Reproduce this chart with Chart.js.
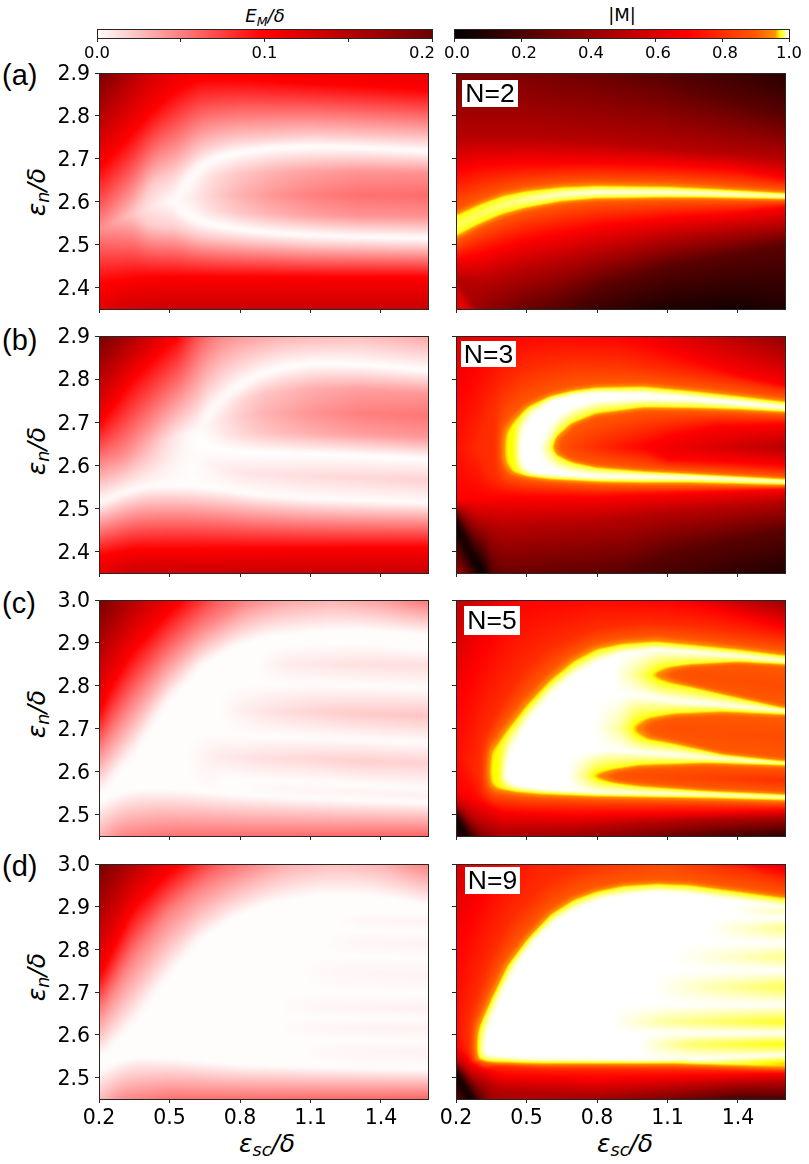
<!DOCTYPE html>
<html><head><meta charset="utf-8">
<script src="https://cdn.jsdelivr.net/npm/chart.js@4"></script>
<style>
html,body{margin:0;padding:0;background:#fff;}
#page{position:relative;width:809px;height:1164px;overflow:hidden;background:#fff;}
canvas{position:absolute;}
.t{position:absolute;white-space:nowrap;color:#000;font-family:"DejaVu Sans",sans-serif;transform:translate(-50%,-50%);line-height:1;}
.t sub{font-size:.7em;line-height:0;vertical-align:-.28em;}
.yl{font-size:25px;font-style:italic;transform:translate(-50%,-50%) rotate(-90deg);}
.xl{font-size:25px;font-style:italic;}
.panel{position:absolute;white-space:nowrap;font-family:"Liberation Sans",Arial,sans-serif;font-size:29px;color:#000;line-height:1;}
.n{position:absolute;background:#fff;font-family:"Liberation Sans",Arial,sans-serif;font-size:26.5px;color:#000;text-align:center;white-space:nowrap;}
</style></head><body><div id="page">
<div class="t" style="left:265px;top:16px;font-size:18px;font-style:italic">E<sub>M</sub>/δ</div>
<div class="t" style="left:622px;top:15px;font-size:18px">|M|</div>
<div class="panel" style="left:2px;top:61px">(a)</div>
<div class="panel" style="left:2px;top:326px">(b)</div>
<div class="panel" style="left:2px;top:589px">(c)</div>
<div class="panel" style="left:2px;top:852px">(d)</div>
<div class="t yl" style="left:36px;top:192px">ε<sub>n</sub>/δ</div>
<div class="t yl" style="left:36px;top:451px">ε<sub>n</sub>/δ</div>
<div class="t yl" style="left:36px;top:714px">ε<sub>n</sub>/δ</div>
<div class="t yl" style="left:36px;top:977px">ε<sub>n</sub>/δ</div>
<div class="t xl" style="left:267px;top:1143px">ε<sub>sc</sub>/δ</div>
<div class="t xl" style="left:625px;top:1143px">ε<sub>sc</sub>/δ</div>
<script>
// Axis ticks
const xTicks=[0.2,0.5,0.8,1.1,1.4];
const yTicksAB=[2.4,2.5,2.6,2.7,2.8,2.9];
const yTicksCD=[2.5,2.6,2.7,2.8,2.9,3.0];
const barTicksE=[0,0.05,0.1,0.15,0.2];
const barLabelsE=[0,0.1,0.2];
const barTicksM=[0,0.2,0.4,0.6,0.8,1];
const panelNames=['N=2','N=3','N=5','N=9'];

// Each field is a list of traces: [level, [x,y,(value)], ...]
// level = the value along the whole trace, or null when every node carries its own value.
const fieldAE=[
 [null,[.2,2.35,.115],[.3,2.35,.13],[.5,2.35,.136],[1.6,2.35,.136]],
 [.1,[.2,2.41],[.4,2.425],[1.6,2.425]],
 [.02,[.36,2.575],[.38,2.555],[.42,2.545],[.47,2.54],[.52,2.54],[.57,2.53],[.63,2.52],[.8,2.51],[1.1,2.5],[1.6,2.495]],
 [null,[.2,2.535,.045],[.3,2.56,.03],[.4,2.583,.013],[.47,2.597,.005],[.52,2.6,.001]],
 [0,[.52,2.6],[.54,2.582],[.57,2.568],[.63,2.553],[.7,2.544],[.8,2.535],[.95,2.527],[1.1,2.522],[1.3,2.518],[1.6,2.515]],
 [null,[.63,2.58,.009],[.7,2.58,.015],[.8,2.575,.023],[.95,2.571,.031],[1.1,2.568,.037],[1.3,2.566,.042],[1.6,2.565,.043]],
 [null,[.52,2.6,.001],[.57,2.605,.005],[.63,2.61,.012],[.7,2.615,.02],[.8,2.615,.031],[.95,2.615,.042],[1.1,2.615,.05],[1.3,2.615,.056],[1.6,2.615,.058]],
 [null,[.63,2.647,.009],[.7,2.66,.015],[.8,2.665,.023],[.95,2.67,.031],[1.1,2.67,.037],[1.3,2.67,.042],[1.6,2.667,.043]],
 [0,[.52,2.6],[.54,2.625],[.57,2.65],[.63,2.683],[.7,2.702],[.8,2.716],[.95,2.726],[1.1,2.728],[1.3,2.726],[1.6,2.718]],
 [.02,[.36,2.575],[.38,2.6],[.42,2.635],[.47,2.655],[.52,2.665],[.57,2.69],[.63,2.72],[.7,2.735],[.8,2.745],[1.1,2.755],[1.6,2.745]],
 [.1,[.2,2.675],[.27,2.715],[.345,2.76],[.42,2.805],[.487,2.84],[.55,2.865],[.63,2.885],[.8,2.885],[1.1,2.875],[1.3,2.87],[1.6,2.86]],
 [null,[.2,2.9,.195],[.3,2.9,.165],[.4,2.9,.135],[.5,2.9,.118],[.63,2.9,.105],[.8,2.9,.106],[1.1,2.9,.11],[1.6,2.9,.116]]
];
const fieldAM=[
 [null,[.2,2.35,.62],[.268,2.35,.6],[.272,2.35,.45],[.3,2.35,.42],[.5,2.35,.29],[.8,2.35,.16],[1.1,2.35,.08],[1.4,2.35,.06],[1.6,2.35,.09]],
 [null,[.2,2.41,.62],[.268,2.351,.6]],
 [null,[.2,2.411,.47],[.272,2.352,.45]],
 [.25,[.6,2.35],[.8,2.4],[1.1,2.45],[1.4,2.48],[1.6,2.5]],
 [.5,[.2,2.42],[.3,2.41],[.5,2.44],[.8,2.48],[1.1,2.515],[1.4,2.535],[1.6,2.545]],
 [.7,[.2,2.465],[.3,2.477],[.5,2.51],[.8,2.543],[1.1,2.562],[1.4,2.574],[1.6,2.588]],
 [.9,[.2,2.508],[.3,2.537],[.4,2.561],[.5,2.577],[.65,2.593],[.8,2.6],[1.1,2.603],[1.3,2.603],[1.6,2.601]],
 [.975,[.2,2.518],[.3,2.547],[.4,2.571],[.5,2.586],[.65,2.601],[.8,2.608],[1.1,2.61],[1.3,2.609],[1.6,2.606]],
 [null,[.2,2.543,.984],[.3,2.57,.985],[.4,2.592,.988],[.5,2.605,.992],[.65,2.617,.997],[.8,2.622,1],[1.1,2.622,1],[1.3,2.619,1],[1.6,2.613,1]],
 [.975,[.2,2.568],[.3,2.593],[.4,2.613],[.5,2.624],[.65,2.633],[.8,2.636],[1.1,2.634],[1.3,2.629],[1.6,2.62]],
 [.9,[.2,2.58],[.3,2.605],[.4,2.625],[.5,2.636],[.65,2.645],[.8,2.648],[1.1,2.646],[1.3,2.64],[1.6,2.628]],
 [.7,[.2,2.67],[.3,2.685],[.5,2.69],[.8,2.69],[1.1,2.685],[1.4,2.675],[1.6,2.655]],
 [.5,[.2,2.75],[.5,2.75],[.8,2.74],[1.1,2.725],[1.4,2.71],[1.6,2.7]],
 [.25,[1.1,2.88],[1.4,2.83],[1.6,2.8]],
 [null,[.2,2.9,.35],[.5,2.9,.34],[.8,2.9,.29],[1.1,2.9,.23],[1.4,2.9,.16],[1.6,2.9,.11]]
];
const fieldBE=[
 [null,[.2,2.35,.115],[.35,2.35,.135],[1.6,2.35,.138]],
 [.1,[.2,2.39],[.35,2.405],[1.6,2.41]],
 [.001,[.2,2.512],[.3,2.535],[.4,2.55],[.5,2.552],[.6,2.55],[.7,2.544],[.9,2.53],[1.1,2.522],[1.3,2.518],[1.6,2.513]],
 [null,[.625,2.61,.003],[.8,2.583,.01],[1.1,2.575,.014],[1.6,2.565,.018]],
 [null,[.2,2.6,.045],[.3,2.62,.045],[.4,2.64,.03],[.5,2.66,.012],[.58,2.675,.003],[.625,2.677,.001]],
 [0,[.625,2.677],[.642,2.65],[.7,2.638],[.84,2.63],[1.05,2.628],[1.34,2.623],[1.6,2.615]],
 [null,[.7,2.67,.006],[.8,2.672,.015],[.9,2.674,.023],[1.1,2.674,.032],[1.3,2.672,.038],[1.6,2.665,.041]],
 [null,[.625,2.677,.001],[.7,2.7,.008],[.8,2.715,.02],[.9,2.72,.03],[1.1,2.72,.042],[1.3,2.72,.05],[1.6,2.715,.054]],
 [null,[.7,2.72,.006],[.8,2.75,.015],[.9,2.767,.023],[1.1,2.778,.032],[1.3,2.776,.038],[1.6,2.767,.041]],
 [0,[.625,2.677],[.642,2.705],[.685,2.73],[.77,2.775],[.885,2.81],[1.0,2.829],[1.125,2.836],[1.34,2.832],[1.6,2.82]],
 [.1,[.2,2.69],[.345,2.8],[.487,2.875],[.54,2.9]],
 [null,[.2,2.9,.195],[.345,2.9,.155],[.487,2.9,.112],[.54,2.9,.1],[.62,2.9,.068],[.7,2.9,.05],[.8,2.9,.04],[1.0,2.9,.03],[1.3,2.9,.026],[1.6,2.9,.035]]
];
const fieldBM=[
 [null,[.2,2.35,.46],[.25,2.35,.3],[.31,2.35,.02],[.318,2.35,0],[.33,2.35,.1],[.36,2.35,.26],[.417,2.35,.3],[.8,2.35,.26],[1.1,2.35,.2],[1.4,2.35,.13],[1.6,2.35,.09]],
 [0,[.2,2.472],[.24,2.425],[.275,2.38],[.318,2.35]],
 [.25,[.9,2.35],[1.1,2.395],[1.4,2.43],[1.6,2.45]],
 [.5,[.2,2.505],[.3,2.47],[.4,2.455],[.8,2.47],[1.1,2.49],[1.4,2.505],[1.6,2.515]],
 [.7,[.2,2.52],[.4,2.526],[.8,2.526],[1.2,2.537],[1.6,2.545]],
 [.8,[.3,2.64],[.33,2.59],[.4,2.555],[.5,2.547],[.8,2.54],[1.2,2.543],[1.6,2.548]],
 [.9,[.382,2.635],[.397,2.6],[.428,2.576],[.5,2.566],[.6,2.56],[.8,2.554],[1.0,2.552],[1.2,2.552],[1.6,2.548]],
 [.975,[.396,2.635],[.41,2.606],[.438,2.586],[.5,2.575],[.6,2.568],[.7,2.565],[.8,2.562],[1.0,2.56],[1.2,2.56],[1.6,2.555]],
 [1,[.46,2.635],[.48,2.6],[.52,2.583],[.6,2.578],[.8,2.572],[1,2.571],[1.2,2.57],[1.6,2.563]],
 [1,[.56,2.635],[.58,2.605],[.63,2.59],[.7,2.582],[.8,2.577],[1,2.575],[1.2,2.573],[1.6,2.564]],
 [.975,[.623,2.642],[.63,2.627],[.65,2.62],[.7,2.607],[.8,2.595],[1,2.586],[1.2,2.58],[1.4,2.574],[1.6,2.568]],
 [.9,[.635,2.642],[.642,2.63],[.66,2.625],[.7,2.613],[.8,2.602],[1,2.593],[1.2,2.587],[1.4,2.581],[1.6,2.574]],
 [.7,[1.0,2.642],[1.1,2.615],[1.3,2.61],[1.6,2.6]],
 [null,[.56,2.64,1],[.6,2.64,.985],[.623,2.642,.975],[.635,2.642,.9],[.7,2.642,.85],[.8,2.642,.8],[1.0,2.642,.7],[1.3,2.642,.6],[1.6,2.642,.5]],
 [.7,[1.0,2.642],[1.1,2.665],[1.3,2.69],[1.6,2.695]],
 [.9,[.635,2.642],[.642,2.66],[.66,2.668],[.7,2.69],[.8,2.712],[1,2.726],[1.2,2.726],[1.4,2.722],[1.6,2.717]],
 [.975,[.623,2.642],[.63,2.662],[.65,2.673],[.7,2.697],[.8,2.72],[1.0,2.734],[1.2,2.733],[1.4,2.73],[1.6,2.724]],
 [1,[.56,2.635],[.58,2.67],[.63,2.71],[.7,2.735],[.8,2.75],[1,2.755],[1.2,2.752],[1.4,2.742],[1.6,2.733]],
 [1,[.46,2.635],[.48,2.68],[.52,2.715],[.6,2.748],[.7,2.762],[.8,2.768],[1,2.766],[1.2,2.757],[1.4,2.747],[1.6,2.735]],
 [.975,[.396,2.635],[.41,2.676],[.438,2.697],[.5,2.734],[.6,2.76],[.7,2.773],[.8,2.78],[1.0,2.782],[1.2,2.772],[1.4,2.76],[1.6,2.747]],
 [.9,[.382,2.635],[.397,2.68],[.428,2.708],[.5,2.745],[.6,2.77],[.7,2.783],[.8,2.79],[1.0,2.792],[1.2,2.782],[1.4,2.77],[1.6,2.757]],
 [.8,[.3,2.64],[.33,2.7],[.4,2.78],[.5,2.825],[.7,2.845],[.9,2.84],[1.1,2.82],[1.4,2.795],[1.6,2.775]],
 [null,[.2,2.64,.73],[.3,2.64,.8]],
 [.7,[.2,2.75],[.3,2.85],[.38,2.9]],
 [.7,[.9,2.9],[1.1,2.865],[1.4,2.81],[1.6,2.785]],
 [null,[.2,2.9,.6],[.3,2.9,.67],[.38,2.9,.7],[.6,2.9,.72],[.9,2.9,.7],[1.1,2.9,.62],[1.4,2.9,.5],[1.6,2.9,.4]]
];
const fieldCE=[
 [null,[.2,2.45,.03],[.3,2.45,.048],[.5,2.45,.055],[1.6,2.45,.06]],
 [.001,[.2,2.525],[.27,2.545],[.35,2.558],[.45,2.56],[.6,2.555],[.8,2.545],[1.1,2.537],[1.6,2.527]],
 [null,[.8,2.56,.001],[1.0,2.558,.004],[1.3,2.552,.005],[1.6,2.545,.006]],
 [.001,[.7,2.585],[1.1,2.577],[1.6,2.56]],
 [null,[.58,2.64,.001],[.7,2.635,.008],[.9,2.63,.013],[1.1,2.63,.016],[1.3,2.625,.019],[1.6,2.62,.018]],
 [.001,[.55,2.69],[.8,2.685],[1.1,2.68],[1.6,2.668]],
 [null,[.72,2.745,.001],[.8,2.745,.006],[.9,2.74,.011],[1.1,2.74,.017],[1.3,2.735,.021],[1.6,2.73,.023]],
 [.001,[.65,2.8],[1.1,2.805],[1.6,2.795]],
 [null,[.88,2.85,.001],[1.0,2.85,.008],[1.2,2.85,.011],[1.4,2.85,.013],[1.6,2.848,.013]],
 [.001,[.8,2.885],[1.1,2.897],[1.3,2.898],[1.6,2.884]],
 [.001,[.2,2.545],[.345,2.64],[.487,2.76],[.63,2.845],[.77,2.89],[.91,2.915],[1.1,2.925],[1.3,2.93],[1.6,2.92]],
 [.05,[.2,2.648],[.345,2.765],[.487,2.865],[.63,2.935],[.77,2.98],[.82,3.0]],
 [.1,[.2,2.725],[.25,2.795],[.345,2.88],[.487,2.965],[.557,3.0]],
 [null,[.2,3,.195],[.345,3,.15],[.487,3,.115],[.557,3,.1],[.7,3,.065],[.82,3,.05],[1,3,.035],[1.2,3,.03],[1.4,3,.038],[1.6,3,.055]]
];
const fieldCM=[
 [null,[.2,2.45,.2],[.235,2.45,.03],[.245,2.45,0],[.26,2.45,.12],[.3,2.45,.35],[.4,2.45,.48],[.7,2.45,.44],[1.0,2.45,.35],[1.3,2.45,.22],[1.6,2.45,.12]],
 [0,[.2,2.5],[.245,2.45]],
 [.5,[.2,2.525],[.25,2.5],[.3,2.48],[.4,2.46],[.7,2.465],[1.0,2.48],[1.3,2.49],[1.6,2.495]],
 [.7,[.2,2.555],[.3,2.53],[.4,2.505],[.7,2.5],[1,2.503],[1.3,2.506],[1.6,2.51]],
 [.8,[.29,2.6],[.31,2.555],[.36,2.53],[.5,2.522],[.8,2.52],[1.2,2.52],[1.6,2.518]],
 [.9,[.32,2.6],[.335,2.565],[.36,2.55],[.45,2.543],[.56,2.538],[.8,2.534],[1.27,2.53],[1.6,2.526]],
 [.975,[.335,2.6],[.345,2.575],[.375,2.562],[.46,2.553],[.56,2.548],[.8,2.543],[1.27,2.539],[1.6,2.534]],
 [1,[.4,2.59],[.44,2.57],[.5,2.563],[.6,2.557],[.8,2.551],[1.27,2.546],[1.6,2.54]],
 [.975,[.79,2.59],[.81,2.582],[.857,2.576],[.985,2.566],[1.27,2.555],[1.6,2.547]],
 [.9,[.857,2.589],[.875,2.581],[.985,2.574],[1.27,2.562],[1.6,2.553]],
 [null,[.68,2.59,1],[.74,2.59,.99],[.79,2.59,.975],[.857,2.589,.9],[.98,2.59,.87],[1.3,2.585,.84],[1.6,2.58,.8]],
 [.9,[.857,2.589],[.875,2.597],[.985,2.607],[1.27,2.613],[1.6,2.607]],
 [.975,[.79,2.59],[.81,2.598],[.857,2.604],[.985,2.615],[1.27,2.62],[1.6,2.615]],
 [1,[.68,2.64],[.85,2.65],[1.13,2.64],[1.34,2.63],[1.6,2.62]],
 [.975,[.95,2.7],[.97,2.687],[1.02,2.675],[1.13,2.665],[1.34,2.64],[1.6,2.624]],
 [.9,[1.01,2.7],[1.03,2.688],[1.13,2.675],[1.34,2.647],[1.6,2.632]],
 [null,[.8,2.7,1],[.9,2.7,.99],[.96,2.7,.975],[1.02,2.7,.9],[1.13,2.7,.88],[1.6,2.68,.87]],
 [.9,[1.01,2.7],[1.03,2.712],[1.13,2.725],[1.34,2.73],[1.6,2.725]],
 [.975,[.95,2.7],[.97,2.713],[1.02,2.725],[1.13,2.735],[1.34,2.74],[1.6,2.733]],
 [1,[.8,2.77],[.95,2.78],[1.13,2.765],[1.34,2.755],[1.6,2.741]],
 [.975,[1.04,2.825],[1.06,2.815],[1.1,2.808],[1.2,2.798],[1.4,2.773],[1.6,2.748]],
 [.9,[1.11,2.826],[1.13,2.816],[1.2,2.806],[1.4,2.78],[1.6,2.757]],
 [null,[.88,2.825,1],[.96,2.825,.99],[1.04,2.825,.975],[1.11,2.826,.9],[1.2,2.825,.88],[1.6,2.8,.87]],
 [.9,[1.11,2.826],[1.13,2.836],[1.2,2.843],[1.4,2.85],[1.6,2.843]],
 [.975,[1.04,2.825],[1.06,2.835],[1.1,2.843],[1.2,2.849],[1.4,2.855],[1.6,2.85]],
 [1,[.4,2.59],[.43,2.65],[.5,2.715],[.6,2.78],[.7,2.825],[.8,2.855],[.9,2.875],[1.05,2.885],[1.2,2.88],[1.4,2.87],[1.6,2.858]],
 [.975,[.335,2.6],[.346,2.64],[.417,2.694],[.5,2.752],[.6,2.81],[.7,2.855],[.8,2.884],[.913,2.897],[1.055,2.902],[1.197,2.895],[1.4,2.884],[1.6,2.87]],
 [.9,[.32,2.6],[.335,2.655],[.403,2.71],[.487,2.768],[.587,2.825],[.687,2.87],[.787,2.898],[.9,2.91],[1.05,2.916],[1.2,2.908],[1.4,2.896],[1.6,2.882]],
 [.8,[.29,2.6],[.31,2.66],[.4,2.76],[.5,2.84],[.6,2.89],[.8,2.935],[1,2.945],[1.2,2.94],[1.4,2.925],[1.6,2.91]],
 [null,[.2,2.65,.72],[.29,2.6,.8]],
 [.7,[.2,2.75],[.3,2.87],[.45,3.0]],
 [.7,[1.1,3.0],[1.3,2.98],[1.5,2.95],[1.6,2.935]],
 [null,[.2,3,.52],[.3,3,.6],[.45,3,.7],[.8,3,.72],[1.1,3,.7],[1.3,3,.6],[1.45,3,.5],[1.6,3,.43]]
];
const fieldDE=[
 [null,[.2,2.45,.025],[.3,2.45,.045],[.5,2.45,.055],[1.6,2.45,.06]],
 [.001,[.2,2.515],[.27,2.535],[.35,2.548],[.5,2.545],[.8,2.53],[1.1,2.525],[1.6,2.518]],
 [null,[1.05,2.565,.001],[1.25,2.565,.004],[1.6,2.56,.005]],
 [.001,[.9,2.59],[1.6,2.585]],
 [null,[.95,2.618,.001],[1.15,2.618,.004],[1.6,2.615,.006]],
 [.001,[.9,2.64],[1.6,2.638]],
 [null,[.95,2.665,.001],[1.15,2.665,.004],[1.6,2.66,.006]],
 [.001,[.95,2.7],[1.6,2.695]],
 [null,[1.05,2.748,.001],[1.25,2.748,.004],[1.6,2.74,.005]],
 [.001,[1.0,2.785],[1.6,2.78]],
 [null,[1.15,2.818,.001],[1.3,2.818,.004],[1.6,2.815,.005]],
 [.001,[1.1,2.845],[1.6,2.84]],
 [null,[1.2,2.868,.001],[1.35,2.868,.004],[1.6,2.865,.005]],
 [.001,[1.2,2.885],[1.6,2.885]],
 [.001,[.2,2.545],[.345,2.625],[.487,2.733],[.63,2.823],[.77,2.874],[.91,2.905],[1.125,2.928],[1.34,2.928],[1.6,2.905]],
 [.05,[.2,2.65],[.345,2.782],[.487,2.884],[.63,2.946],[.74,2.977],[.827,3.0]],
 [.1,[.2,2.728],[.345,2.895],[.487,2.973],[.55,3.0]],
 [null,[.2,3,.195],[.345,3,.15],[.487,3,.11],[.55,3,.1],[.7,3,.065],[.83,3,.05],[1.0,3,.032],[1.2,3,.025],[1.4,3,.03],[1.6,3,.05]]
];
const fieldDM=[
 [null,[.2,2.45,.3],[.255,2.45,.05],[.268,2.45,0],[.28,2.45,.12],[.35,2.45,.45],[.5,2.45,.5],[.8,2.45,.44],[1.1,2.45,.35],[1.4,2.45,.2],[1.6,2.45,.22]],
 [0,[.2,2.517],[.268,2.45]],
 [.5,[.2,2.54],[.28,2.5],[.4,2.47],[.8,2.46],[1.1,2.475],[1.4,2.487],[1.6,2.49]],
 [.7,[.2,2.57],[.3,2.525],[.4,2.505],[.8,2.5],[1.2,2.505],[1.6,2.51]],
 [.8,[.24,2.575],[.26,2.54],[.33,2.53],[.6,2.522],[1.2,2.52],[1.6,2.515]],
 [.9,[.265,2.573],[.28,2.538],[.318,2.53],[.56,2.526],[1.13,2.526],[1.6,2.518]],
 [.975,[.278,2.573],[.29,2.545],[.318,2.537],[.56,2.533],[1.13,2.533],[1.6,2.525]],
 [null,[1.2,2.54,1],[1.4,2.537,.985],[1.6,2.532,.965]],
 [1,[.31,2.565],[.34,2.553],[.5,2.545],[1.0,2.541],[1.3,2.546],[1.6,2.552]],
 [null,[.98,2.578,1],[1.2,2.578,.985],[1.6,2.578,.975]],
 [1,[.85,2.604],[1.6,2.604]],
 [null,[.87,2.63,1],[1.1,2.63,.99],[1.6,2.63,.978]],
 [1,[.85,2.67],[1.6,2.67]],
 [null,[1.04,2.712,1],[1.3,2.712,.992],[1.6,2.712,.983]],
 [1,[1.0,2.75],[1.6,2.75]],
 [null,[1.13,2.782,1],[1.4,2.782,.994],[1.6,2.782,.988]],
 [1,[1.1,2.815],[1.6,2.815]],
 [null,[1.27,2.85,1],[1.45,2.85,.994],[1.6,2.85,.988]],
 [1,[1.25,2.875],[1.6,2.875]],
 [null,[1.38,2.89,1],[1.6,2.89,.992]],
 [1,[.31,2.565],[.33,2.61],[.38,2.68],[.45,2.76],[.53,2.82],[.63,2.87],[.73,2.9],[.83,2.92],[.95,2.93],[1.055,2.935],[1.2,2.93],[1.4,2.915],[1.6,2.9]],
 [.975,[.278,2.573],[.29,2.61],[.346,2.68],[.417,2.76],[.5,2.822],[.6,2.88],[.7,2.915],[.8,2.935],[.913,2.948],[1.055,2.953],[1.197,2.95],[1.4,2.935],[1.6,2.92]],
 [.9,[.265,2.573],[.28,2.62],[.335,2.69],[.405,2.77],[.49,2.83],[.59,2.89],[.69,2.925],[.79,2.945],[.91,2.958],[1.055,2.963],[1.2,2.96],[1.4,2.945],[1.6,2.93]],
 [.8,[.24,2.575],[.27,2.65],[.35,2.78],[.45,2.88],[.6,2.96],[.75,3.0]],
 [.8,[1.3,3.0],[1.45,2.985],[1.6,2.96]],
 [null,[.2,2.65,.72],[.24,2.575,.8]],
 [.7,[.2,2.8],[.3,2.92],[.38,3.0]],
 [.7,[1.45,3.0],[1.6,2.985]],
 [null,[.2,3,.58],[.38,3,.7],[.55,3,.78],[.75,3,.8],[1.0,3,.85],[1.1,3,.87],[1.3,3,.8],[1.45,3,.7],[1.6,3,.62]]
];

// Colormaps: [value, r, g, b]
const cmapE=[[0,255,255,255],[.1,255,0,0],[.2,110,0,0]];
const cmapM=[[0,0,0,0],[.7,255,0,0],[.9,255,88,0],[.96,255,144,0],[.975,255,255,0],[1,255,255,255]];
function colour(map,v){
  if(v<=map[0][0]) return `rgb(${map[0][1]},${map[0][2]},${map[0][3]})`;
  for(let i=1;i<map.length;i++){
    if(v<=map[i][0]){
      const a=map[i-1],b=map[i],t=(v-a[0])/(b[0]-a[0]);
      return `rgb(${Math.round(a[1]+(b[1]-a[1])*t)},${Math.round(a[2]+(b[2]-a[2])*t)},${Math.round(a[3]+(b[3]-a[3])*t)})`;
    }
  }
  const l=map[map.length-1];return `rgb(${l[1]},${l[2]},${l[3]})`;
}
// The traces crossing one column, sorted by y
function crossings(field,x){
  const out=[];
  for(const tr of field){
    const lv=tr[0];
    for(let i=1;i<tr.length-1;i++){
      const a=tr[i],b=tr[i+1];
      if(x>=a[0]-1e-9&&x<=b[0]+1e-9){
        const t=b[0]===a[0]?0:(x-a[0])/(b[0]-a[0]);
        const va=a.length>2?a[2]:lv,vb=b.length>2?b[2]:lv;
        out.push({y:a[1]+(b[1]-a[1])*t,v:va+(vb-va)*t});
        break;
      }
    }
  }
  return out.sort((p,q)=>p.y-q.y);
}
// Shades the traces into per-pixel levels through the chart's own scales, softened like the source image
function shade(chart,field,cols,rH,rV){
  const ys=chart.scales.y;
  const top=ys.getPixelForValue(ys.max),bot=ys.getPixelForValue(ys.min);
  const R=Math.round(bot-top)+1,C=cols.length;
  let g=cols.map(col=>{
    const c=crossings(field,col.x),a=new Float32Array(R);let k=0;
    for(let j=R-1;j>=0;j--){
      const y=ys.getValueForPixel(top+j);
      while(k<c.length-1&&c[k+1].y<y) k++;
      if(y<=c[0].y) a[j]=c[0].v;
      else if(k>=c.length-1) a[j]=c[c.length-1].v;
      else{const d=c[k+1].y-c[k].y;a[j]=d<=0?c[k+1].v:c[k].v+(c[k+1].v-c[k].v)*(y-c[k].y)/d;}
    }
    return a;
  });
  const blurH=r=>{g=g.map((_,i)=>{const o=new Float32Array(R);
    for(let j=0;j<R;j++){let s=0;for(let d=-r;d<=r;d++){s+=g[Math.min(C-1,Math.max(0,i+d))][j];}o[j]=s/(2*r+1);}return o;});};
  const blurV=r=>{g=g.map(a=>{const o=new Float32Array(R);
    for(let j=0;j<R;j++){let s=0;for(let d=-r;d<=r;d++){s+=a[Math.min(R-1,Math.max(0,j+d))];}o[j]=s/(2*r+1);}return o;});};
  blurH(rH);blurH(rH);blurV(rV);blurV(rV);
  return {g,top,bot,R};
}
const frame={id:'frame',afterDraw(ch){
  const a=ch.chartArea,c=ch.ctx;
  c.save();c.strokeStyle='#262626';c.lineWidth=1;
  c.strokeRect(a.left+.5,a.top+.5,a.right-a.left,a.bottom-a.top);c.restore();
}};
// Nudges tick labels to where the reference has them: [scale id, function(label) -> [dx,dy]]
function labelNudge(id,fn){return {id:'nudge'+id,beforeDraw(ch){
  const s=ch.scales[id];
  for(const it of s.getLabelItems()){
    const d=fn(String(it.label));
    if(!it.options.translation.nudged){
      it.options.translation=[it.options.translation[0]+d[0],it.options.translation[1]+d[1]];
      it.options.translation.nudged=true;
    }
  }
}};}
const page=document.getElementById('page');
const FONT='"DejaVu Sans",sans-serif';
function makeCanvas(l,t,w,h){
  const c=document.createElement('canvas');
  c.width=w;c.height=h;c.style.left=l+'px';c.style.top=t+'px';c.style.width=w+'px';c.style.height=h+'px';
  page.appendChild(c);return c;
}
function heatPanel(o){
  const M=o.isM, map=M?cmapM:cmapE;
  const cl=o.left-45, ct=o.top-20, cw=o.right-o.left+45+14, ch=o.bottom-o.top+20+42;
  const canvas=makeCanvas(cl,ct,cw,ch);
  const cols=[];const N=o.right-o.left;
  for(let i=0;i<=N;i++) cols.push({x:.2+1.4*i/N,y:[o.ymin,o.ymax]});
  let sh=null;
  new Chart(canvas,{
    type:'bar',
    data:{datasets:[{data:cols,barThickness:2,grouped:false,borderWidth:0,borderSkipped:false,inflateAmount:0,
      backgroundColor:c=>{
        if(!c.chart.chartArea||c.raw===undefined) return '#fff';
        if(!sh) sh=shade(c.chart,o.field,cols,M?3:5,1);
        const gr=c.chart.ctx.createLinearGradient(0,sh.top,0,sh.bot),a=sh.g[c.dataIndex];
        for(let j=0;j<sh.R;j++) gr.addColorStop(j/(sh.R-1),colour(map,a[j]));
        return gr;
      }}]},
    plugins:[frame,labelNudge('y',()=>[0,2])],
    options:{
      responsive:false,animation:false,events:[],devicePixelRatio:1,
      layout:{padding:{left:5,top:20,right:14,bottom:12}},
      plugins:{legend:{display:false},tooltip:{enabled:false}},
      scales:{
        x:{type:'linear',min:.2,max:1.6,offset:false,
          grid:{offset:false,drawOnChartArea:false,drawTicks:true,tickLength:4,color:'#262626',tickWidth:1},
          border:{display:false},
          afterBuildTicks:s=>{s.ticks=xTicks.map(v=>({value:v}));},
          afterFit:s=>{s.height=30;},
          ticks:{autoSkip:false,maxRotation:0,minRotation:0,padding:3,color:'#000',font:{family:FONT,size:20.5},
            callback:v=>o.xLabels?v.toFixed(1):''}},
        y:{type:'linear',min:o.ymin,max:o.ymax,beginAtZero:false,
          grid:{drawOnChartArea:false,drawTicks:true,tickLength:4,color:'#262626',tickWidth:1},
          border:{display:false},
          afterBuildTicks:s=>{s.ticks=o.yTicks.map(v=>({value:v}));},
          afterFit:s=>{s.width=40;},
          ticks:{autoSkip:false,padding:5,color:'#000',font:{family:FONT,size:20.5},
            callback:v=>o.yLabels?v.toFixed(1):''}}
      }
    }
  });
}
function colourBar(o){
  const cl=o.left-30, cw=o.right-o.left+60, ct=o.top-5, ch=40;
  const canvas=makeCanvas(cl,ct,cw,ch);
  const cols=[];const N=o.right-o.left;
  for(let i=0;i<=N;i++) cols.push({x:o.max*i/N,y:[0,1]});
  new Chart(canvas,{
    type:'bar',
    data:{datasets:[{data:cols,barThickness:2,grouped:false,borderWidth:0,borderSkipped:false,inflateAmount:0,
      backgroundColor:c=>c.raw?colour(o.map,c.raw.x):'#fff'}]},
    plugins:[frame,labelNudge('x',l=>[o.nudge(l),0])],
    options:{
      responsive:false,animation:false,events:[],devicePixelRatio:1,
      layout:{padding:{left:30-0,top:5,right:30,bottom:ch-5-(o.bottom-o.top)-26}},
      plugins:{legend:{display:false},tooltip:{enabled:false}},
      scales:{
        x:{type:'linear',min:0,max:o.max,offset:false,
          grid:{offset:false,drawOnChartArea:false,drawTicks:true,tickLength:4,color:'#262626',tickWidth:1},
          border:{display:false},
          afterBuildTicks:s=>{s.ticks=o.ticks.map(v=>({value:v}));},
          afterFit:s=>{s.height=26;},
          ticks:{autoSkip:false,maxRotation:0,minRotation:0,padding:2,color:'#000',font:{family:FONT,size:16.4},
            callback:v=>o.labels.some(l=>Math.abs(l-v)<1e-9)?v.toFixed(1):''}},
        y:{type:'linear',min:0,max:1,display:false,beginAtZero:false}
      }
    }
  });
}
colourBar({left:97,right:432,top:29,bottom:38,max:.2,map:cmapE,ticks:barTicksE,labels:barLabelsE,nudge:l=>l==='0.2'?-10:0});
colourBar({left:454,right:789,top:29,bottom:38,max:1,map:cmapM,ticks:barTicksM,labels:barTicksM,nudge:l=>l==='1.0'?0:3});
const rows=[
 {top:73,bottom:309,ymin:2.35,ymax:2.9,yTicks:yTicksAB,fE:fieldAE,fM:fieldAM},
 {top:336,bottom:573,ymin:2.35,ymax:2.9,yTicks:yTicksAB,fE:fieldBE,fM:fieldBM},
 {top:600,bottom:836,ymin:2.45,ymax:3.0,yTicks:yTicksCD,fE:fieldCE,fM:fieldCM},
 {top:864,bottom:1099,ymin:2.45,ymax:3.0,yTicks:yTicksCD,fE:fieldDE,fM:fieldDM}
];
rows.forEach((r,i)=>{
  const last=i===rows.length-1;
  heatPanel({left:99,right:428,top:r.top,bottom:r.bottom,ymin:r.ymin,ymax:r.ymax,yTicks:r.yTicks,field:r.fE,isM:false,xLabels:last,yLabels:true});
  heatPanel({left:456,right:785,top:r.top,bottom:r.bottom,ymin:r.ymin,ymax:r.ymax,yTicks:r.yTicks,field:r.fM,isM:true,xLabels:last,yLabels:false});
});
// N= tags sit above the right-hand panels
const tagBoxes=[[462,80,56,27],[461,341,55,26],[464,606,56,29],[465,867,55,27]];
panelNames.forEach((name,i)=>{
  const d=document.createElement('div');d.className='n';d.textContent=name;
  const b=tagBoxes[i];
  d.style.cssText=`left:${b[0]}px;top:${b[1]}px;width:${b[2]}px;height:${b[3]}px;line-height:${b[3]}px;`;
  page.appendChild(d);
});
</script>
</div></body></html>
